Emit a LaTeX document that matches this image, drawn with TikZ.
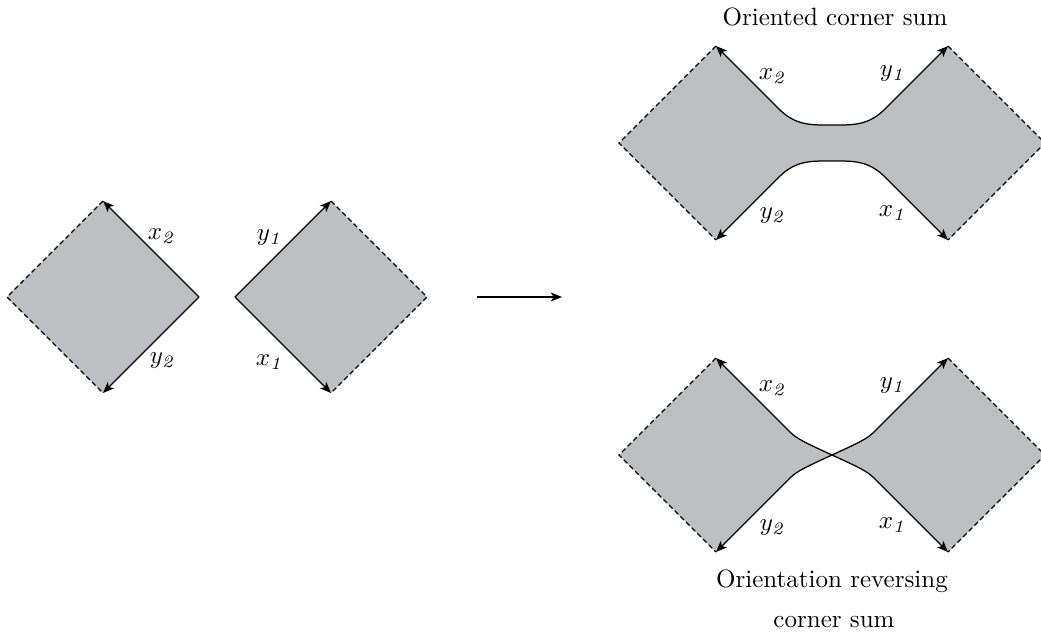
\documentclass[tikz,border=0pt]{standalone}
\usetikzlibrary{arrows.meta}
\definecolor{diagfill}{RGB}{190,191,195}
\begin{document}
\begin{tikzpicture}[x=0.4pt,y=-0.4pt,
  tipA/.tip={Stealth[length=4.5pt,width=3.6pt,inset=1.2pt]},
  edge/.style={line width=0.5pt,-tipA},
  bothedge/.style={line width=0.5pt,tipA-tipA},
  outerdash/.style={line width=0.45pt,dash pattern=on 2pt off 1.2pt},
  region/.style={fill=diagfill},
  lbl/.style={inner sep=0pt},
  ttl/.style={anchor=base,inner sep=0pt}]
\useasboundingbox (0,0) rectangle (1041,635);
% ---------- left picture ----------
\coordinate (aL) at (7,297);   \coordinate (aT) at (103,201);
\coordinate (aR) at (199,297); \coordinate (aB) at (103,393);
\coordinate (bL) at (235,297); \coordinate (bT) at (331,201);
\coordinate (bR) at (427,297); \coordinate (bB) at (331,393);
\path[region] (aL)--(aT)--(aR)--(aB)--cycle;
\path[region] (bL)--(bT)--(bR)--(bB)--cycle;
\draw[outerdash] (aT)--(aL)--(aB);
\draw[outerdash] (bT)--(bR)--(bB);
\draw[edge] (aR)--(aT);
\draw[edge] (aR)--(aB);
\draw[edge] (bL)--(bT);
\draw[edge] (bL)--(bB);
\node[lbl] (ax2) at (162,236) {$x_{\mathit{2}}$};
\node[lbl] (ay2) at (163,361) {$y_{\mathit{2}}$};
\node[lbl] (by1) at (270,238) {$y_{\mathit{1}}$};
\node[lbl] (bx1) at (270,362) {$x_{\mathit{1}}$};
% ---------- arrow ----------
\coordinate (arS) at (477,297); \coordinate (arE) at (562,297);
\draw[edge] (arS)--(arE);
% ---------- oriented corner sum ----------
\coordinate (cL) at (619,143); \coordinate (cT) at (716,46);
\coordinate (cR) at (813,143); \coordinate (cB) at (716,240);
\coordinate (dL) at (851,143); \coordinate (dT) at (948,46);
\coordinate (dR) at (1045,143); \coordinate (dB) at (948,240);
\coordinate (p1) at (779,109); \coordinate (p2) at (885,109);
\coordinate (p3) at (779,177); \coordinate (p4) at (885,177);
\coordinate (m1) at (832,125); \coordinate (m2) at (832,161);
\path[region] (cT)--(p1) .. controls (796,126) and (812,125) .. (m1)
  .. controls (852,125) and (868,126) .. (p2) --(dT)--(dR)--(dB)--(p4)
  .. controls (868,160) and (852,161) .. (m2)
  .. controls (812,161) and (796,160) .. (p3) --(cB)--(cL)--cycle;
\draw[bothedge] (cT)--(p1) .. controls (796,126) and (812,125) .. (m1)
  .. controls (852,125) and (868,126) .. (p2) --(dT);
\draw[bothedge] (dB)--(p4) .. controls (868,160) and (852,161) .. (m2)
  .. controls (812,161) and (796,160) .. (p3) --(cB);
\draw[outerdash] (cT)--(cL)--(cB);
\draw[outerdash] (dT)--(dR)--(dB);
\node[lbl] (cx2) at (773,76) {$x_{\mathit{2}}$};
\node[lbl] (dy1) at (893,74) {$y_{\mathit{1}}$};
\node[lbl] (cy2) at (773,216) {$y_{\mathit{2}}$};
\node[lbl] (dx1) at (893,213) {$x_{\mathit{1}}$};
\node[ttl] (t1) at (835,25) {Oriented corner sum};
% ---------- orientation reversing corner sum ----------
\coordinate (eL) at (619,455); \coordinate (eT) at (716,358);
\coordinate (eR) at (813,455); \coordinate (eB) at (716,552);
\coordinate (fL) at (851,455); \coordinate (fT) at (948,358);
\coordinate (fR) at (1045,455); \coordinate (fB) at (948,552);
\coordinate (q1) at (790,432); \coordinate (q2) at (874,478);
\coordinate (q3) at (874,432); \coordinate (q4) at (790,478);
\coordinate (X) at (832,455);
\path[region] (eT)--(q1) .. controls (797,439) and (806,443) .. (X)
  .. controls (858,467) and (867,471) .. (q2) --(fB)--(fR)--(fT)--(q3)
  .. controls (867,439) and (858,443) .. (X)
  .. controls (806,467) and (797,471) .. (q4) --(eB)--(eL)--cycle;
\draw[bothedge] (eT)--(q1) .. controls (797,439) and (806,443) .. (X)
  .. controls (858,467) and (867,471) .. (q2) --(fB);
\draw[bothedge] (fT)--(q3) .. controls (867,439) and (858,443) .. (X)
  .. controls (806,467) and (797,471) .. (q4) --(eB);
\draw[outerdash] (eT)--(eL)--(eB);
\draw[outerdash] (fT)--(fR)--(fB);
\node[lbl] (ex2) at (773,388) {$x_{\mathit{2}}$};
\node[lbl] (fy1) at (893,386) {$y_{\mathit{1}}$};
\node[lbl] (ey2) at (773,528) {$y_{\mathit{2}}$};
\node[lbl] (fx1) at (893,525) {$x_{\mathit{1}}$};
\node[ttl] (t2) at (832,587) {Orientation reversing};
\node[ttl] (t3) at (834,627) {corner sum};
\end{tikzpicture}
\end{document}
